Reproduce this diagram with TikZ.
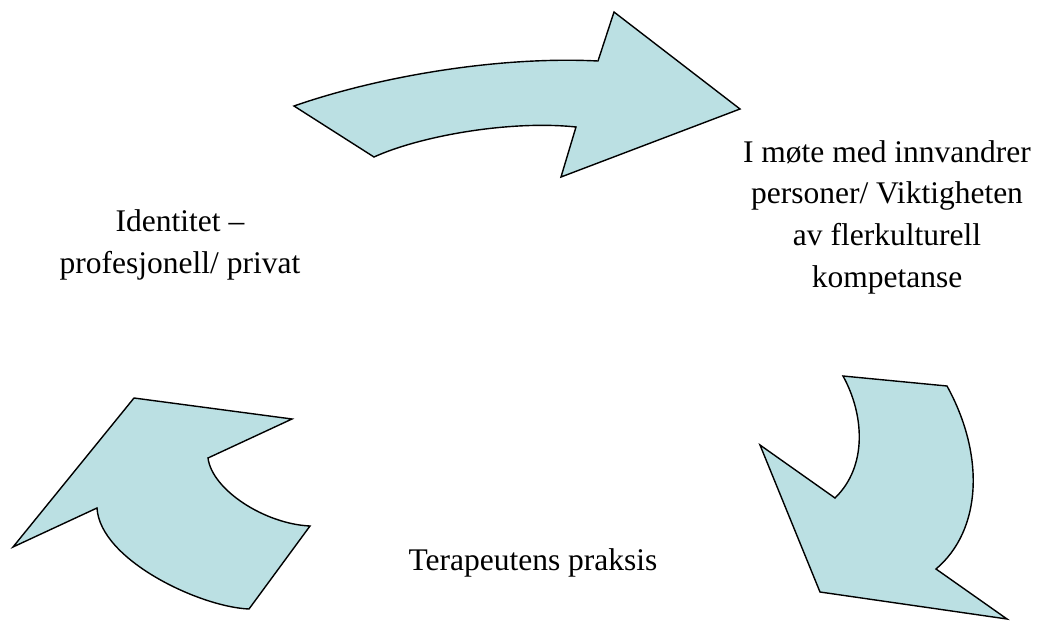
\documentclass[tikz,border=0pt]{standalone}
\usepackage{fontspec}
\setmainfont{Liberation Serif}
\definecolor{arrowfill}{RGB}{187,224,227}
\begin{document}
\begin{tikzpicture}[x=1pt,y=-1pt,
  bigarrow/.style={draw=black,fill=arrowfill,line width=1.4pt,line join=miter},
  lbl/.style={inner sep=0pt,align=center,font=\fontsize{31.5}{41.7}\selectfont}]
\useasboundingbox (0,0) rectangle (1037,621);
% top arrow
\draw[bigarrow] (294,106) .. controls (380,76) and (500,56) .. (598,61)
  -- (614,12) -- (740,109) -- (561,177) -- (576,127)
  .. controls (510,120) and (420,136) .. (374,157) -- cycle;
% right arrow
\draw[bigarrow] (843,376) -- (947,386) .. controls (985,455) and (982,530) .. (936,569)
  -- (1007,619) -- (820,592) -- (760,445) -- (835,498)
  .. controls (868,466) and (864,414) .. (843,376) -- cycle;
% left arrow
\draw[bigarrow] (134,398) -- (292,419) -- (208,458)
  .. controls (212,490) and (265,524) .. (310,526) -- (249,609)
  .. controls (200,607) and (100,560) .. (97,508) -- (13,547) -- cycle;
% labels
\node[lbl] (right) at (887,217) {I møte med innvandrer\\personer/ Viktigheten\\av flerkulturell\\kompetanse};
\node[lbl] (left) at (180,245) {Identitet –\\profesjonell/ privat};
\node[lbl,anchor=base] (bottom) at (533,570) {Terapeutens praksis};
\end{tikzpicture}
\end{document}
